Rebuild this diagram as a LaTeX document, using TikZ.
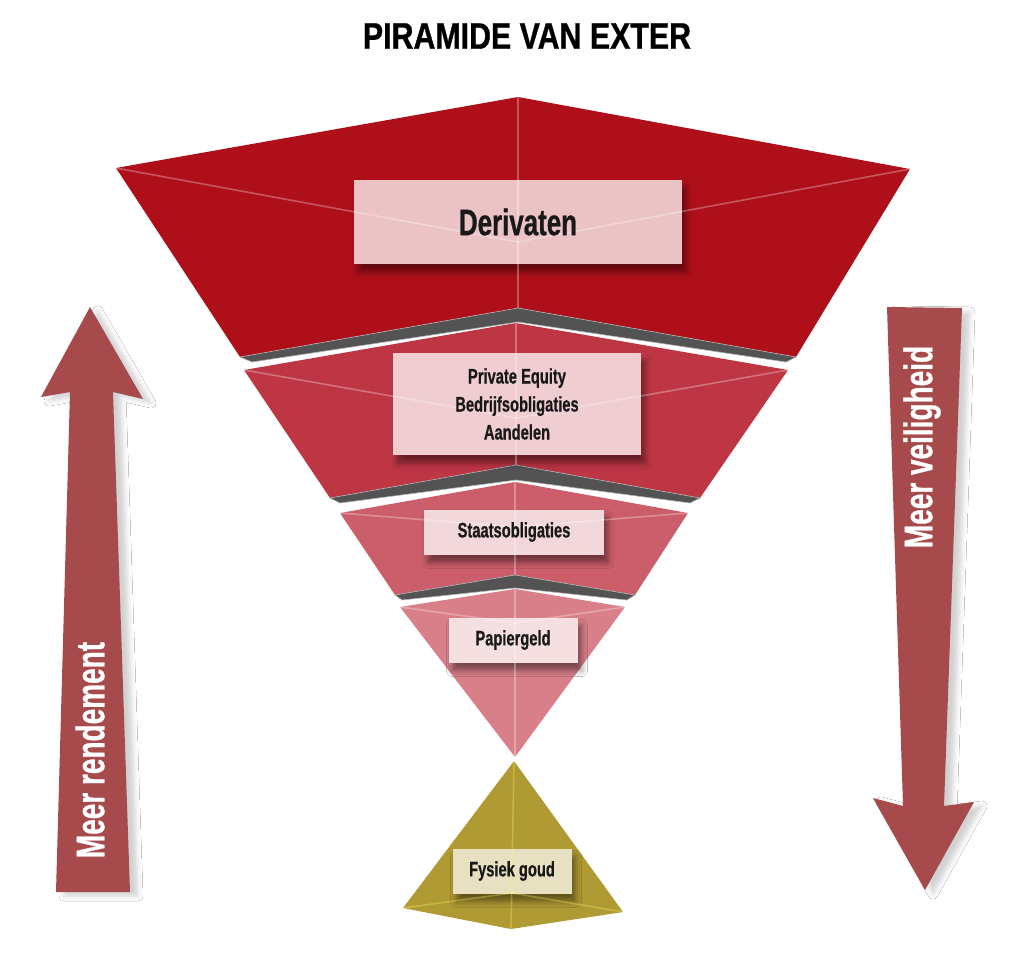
\documentclass[tikz,border=0pt]{standalone}
\usepackage{fontspec}
\newfontfamily\din{Liberation Sans}[FakeStretch=0.7, FakeBold=0.6]
\newfontfamily\dint{Liberation Sans}[FakeStretch=0.82, FakeBold=0.8]
\usetikzlibrary{shadows.blur}
\definecolor{Lone}{HTML}{AF0F19}
\definecolor{Ltwo}{HTML}{BE3644}
\definecolor{Lthree}{HTML}{CC5E6B}
\definecolor{Lfour}{HTML}{D97F89}
\definecolor{Gold}{HTML}{B09A33}
\definecolor{Band}{HTML}{535353}
\definecolor{Arr}{HTML}{A64A4B}
\tikzset{
  band/.style={fill=Band, draw=gray!60, line width=0.6pt},
  facet/.style={draw=white, draw opacity=0.3, line width=1.6pt},
  labelbox/.style={inner sep=0pt, draw=none,
    blur shadow={shadow xshift=4pt, shadow yshift=-8pt, shadow blur radius=6pt, shadow opacity=45}},
  boxtext/.style={inner sep=0pt, align=center, text=black!90,
    font=\din\bfseries\fontsize{21}{28}\selectfont},
  bigarrow/.style={fill=Arr,
    blur shadow={shadow xshift=8pt, shadow yshift=-4pt, shadow blur radius=5pt, shadow opacity=18}},
  arrowtext/.style={rotate=90, text=white, inner sep=0pt,
    font=\din\bfseries\fontsize{40}{40}\selectfont},
}
\begin{document}
\begin{tikzpicture}[x=1pt,y=-1pt]
\useasboundingbox (0,0) rectangle (1024,955);
\fill[white] (0,0) rectangle (1024,955);

% title
\node[font=\dint\bfseries\fontsize{37}{40}\selectfont, inner sep=0pt] (title) at (527,36) {PIRAMIDE VAN EXTER};

% arrows
\fill[bigarrow] (90,307) -- (143,399) -- (113,392) -- (130,892) -- (56,892) -- (70,392) -- (41,397) -- cycle;
\fill[bigarrow] (887,307) -- (962,308) -- (944,806) -- (974,802) -- (925,890) -- (873,798) -- (903,806) -- cycle;
\node[arrowtext] (rend) at (90,750) {Meer rendement};
\node[arrowtext] (veil) at (922,447) {Meer veiligheid};

% layers
\fill[Lone] (518,97) -- (116,168) -- (240,357) -- (518,308) -- (796,357) -- (910,169) -- cycle;
\filldraw[band] (240,357) -- (518,308) -- (796,357) -- (786,362) -- (518,322) -- (252,362) -- cycle;
\fill[Ltwo] (516,323) -- (244,370) -- (330,498) -- (516,465) -- (700,498) -- (788,370) -- cycle;
\filldraw[band] (330,498) -- (516,465) -- (700,498) -- (690,503) -- (516,480) -- (340,503) -- cycle;
\fill[Lthree] (515,482) -- (340,513) -- (395,595) -- (515,575) -- (635,595) -- (688,513) -- cycle;
\filldraw[band] (395,595) -- (515,575) -- (635,595) -- (627,600) -- (515,588) -- (402,600) -- cycle;
\fill[Lfour] (515,589) -- (400,607) -- (515,757) -- (625,607) -- cycle;
\fill[Gold] (514,761) -- (403,908) -- (511,929) -- (623,912) -- cycle;

% boxes
\node[labelbox, fill=white!75!Lone, minimum width=328pt, minimum height=84pt] (b1) at (518,222) {};
\node[labelbox, fill=white!75!Ltwo, minimum width=248pt, minimum height=102pt] (b2) at (517,404) {};
\node[labelbox, fill=white!75!Lthree, minimum width=180pt, minimum height=45pt] (b3) at (514,532) {};
\node[labelbox, fill=white!75!Lfour, minimum width=129pt, minimum height=45pt] (b4) at (513,640) {};
\node[labelbox, fill=white!70!Gold, minimum width=119pt, minimum height=45pt] (b5) at (512,871) {};

% facet lines
\draw[facet] (116,168) -- (518,242) -- (910,169);
\draw[facet] (518,97) -- (518,308);
\draw[facet] (244,370) -- (516,418) -- (788,370);
\draw[facet] (516,323) -- (516,465);
\draw[facet] (340,513) -- (515,527) -- (688,513);
\draw[facet] (515,482) -- (515,575);
\draw[facet] (400,607) -- (515,623) -- (625,607);
\draw[facet] (515,589) -- (515,757);
\draw[facet, draw=yellow!60] (403,908) -- (512,893) -- (623,912);
\draw[facet, draw=yellow!60] (514,761) -- (511,929);

% texts
\node[boxtext, font=\din\bfseries\fontsize{37}{40}\selectfont] (t1) at (b1) {Derivaten};
\node[boxtext] (t2) at (b2) {Private Equity\\Bedrijfsobligaties\\Aandelen};
\node[boxtext] (t3) at (b3) {Staatsobligaties};
\node[boxtext] (t4) at (b4) {Papiergeld};
\node[boxtext] (t5) at (b5) {Fysiek goud};
\end{tikzpicture}
\end{document}
